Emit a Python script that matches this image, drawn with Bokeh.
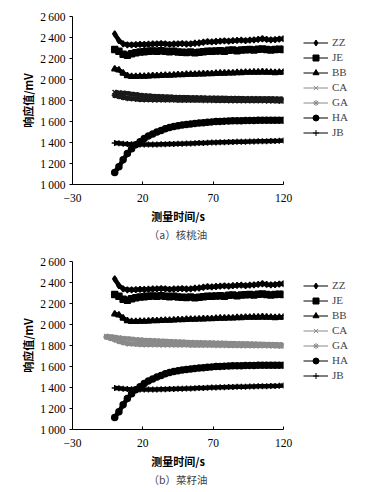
from bokeh.plotting import figure
from bokeh.models import Legend, LegendItem, FixedTicker, Title, Range1d
from bokeh.layouts import column, row
from bokeh.embed import file_html
from bokeh.resources import INLINE

# ---------------- data ----------------
T = list(range(0, 121, 3))            # measurement time, s
T_B2 = list(range(-6, 121, 3))        # time for CA/GA in panel (b)

X_TICKS = [-30, 20, 70, 120]
X_TICK_LABELS = ["\u221230", "20", "70", "120"]
Y_TICKS = [1000, 1200, 1400, 1600, 1800, 2000, 2200, 2400, 2600]
Y_TICK_LABELS = ["1\u2009000", "1\u2009200", "1\u2009400", "1\u2009600", "1\u2009800",
                 "2\u2009000", "2\u2009200", "2\u2009400", "2\u2009600"]

NAMES = ["ZZ", "JE", "BB", "CA", "GA", "HA", "JB"]

ZZ = [2435, 2370, 2340, 2330, 2330, 2332, 2335, 2333, 2336, 2338, 2340, 2342, 2340, 2335,
      2338, 2340, 2342, 2338, 2340, 2345, 2348, 2355, 2360, 2358, 2362, 2365, 2368, 2365,
      2370, 2372, 2375, 2370, 2375, 2378, 2382, 2388, 2382, 2378, 2380, 2385, 2388]
JE = [2285, 2270, 2240, 2232, 2245, 2255, 2262, 2265, 2270, 2272, 2268, 2275, 2270, 2265,
      2268, 2262, 2260, 2258, 2262, 2255, 2260, 2265, 2270, 2268, 2272, 2275, 2270, 2278,
      2280, 2275, 2280, 2283, 2285, 2282, 2288, 2290, 2285, 2282, 2285, 2288, 2285]
BB = [2100, 2090, 2060, 2035, 2028, 2028, 2030, 2030, 2032, 2035, 2035, 2038, 2040, 2040,
      2042, 2045, 2045, 2048, 2050, 2050, 2052, 2053, 2055, 2055, 2058, 2060, 2060, 2062,
      2062, 2065, 2065, 2068, 2068, 2070, 2070, 2072, 2070, 2068, 2065, 2068, 2070]
CA_A = [1880, 1875, 1872, 1868, 1862, 1858, 1852, 1848, 1845, 1842, 1840, 1838, 1836, 1835,
        1833, 1832, 1830, 1830, 1828, 1828, 1826, 1826, 1825, 1825, 1824, 1823, 1823, 1822,
        1822, 1822, 1821, 1820, 1820, 1820, 1819, 1818, 1818, 1818, 1817, 1816, 1815]
GA_A = [1850, 1840, 1830, 1822, 1818, 1815, 1812, 1810, 1810, 1808, 1808, 1808, 1806, 1806,
        1806, 1805, 1805, 1805, 1804, 1804, 1804, 1803, 1803, 1803, 1802, 1802, 1802, 1801,
        1801, 1801, 1800, 1800, 1800, 1800, 1799, 1799, 1798, 1798, 1797, 1796, 1795]
HA = [1115, 1170, 1235, 1295, 1340, 1378, 1408, 1437, 1461, 1481, 1500, 1515, 1530, 1542,
      1552, 1560, 1567, 1572, 1576, 1580, 1585, 1589, 1593, 1596, 1599, 1601, 1603, 1605,
      1606, 1607, 1608, 1609, 1610, 1610, 1611, 1611, 1611, 1611, 1612, 1612, 1612]
JB = [1395, 1392, 1388, 1385, 1383, 1382, 1380, 1380, 1380, 1381, 1382, 1383, 1384, 1385,
      1386, 1388, 1389, 1390, 1391, 1393, 1395, 1396, 1398, 1400, 1401, 1402, 1403, 1404,
      1405, 1406, 1407, 1408, 1409, 1410, 1411, 1412, 1413, 1414, 1415, 1417, 1420]
CA_B = [1890, 1885, 1880, 1875, 1870, 1866, 1862, 1858, 1855, 1852, 1850, 1848, 1846, 1844,
        1842, 1840, 1838, 1836, 1835, 1833, 1832, 1830, 1829, 1828, 1827, 1826, 1825, 1824,
        1823, 1822, 1821, 1820, 1819, 1818, 1817, 1816, 1815, 1814, 1813, 1812, 1811, 1810, 1808]
GA_B = [1880, 1868, 1855, 1840, 1828, 1820, 1816, 1814, 1812, 1810, 1810, 1809, 1809, 1808,
        1808, 1807, 1807, 1806, 1806, 1806, 1805, 1805, 1805, 1804, 1804, 1804, 1803, 1803,
        1803, 1802, 1802, 1802, 1801, 1801, 1800, 1800, 1800, 1799, 1799, 1798, 1797, 1796, 1795]

SERIF = "Liberation Serif"
CJK = "Noto Sans CJK SC"
MARKERS = ["diamond", "square", "triangle", "x", "asterisk", "circle", "cross"]
LEGEND_COLORS = ["black", "black", "black", "#8a8a8a", "#8a8a8a", "black", "black"]


def make_panel(series, caption, top_border, bottom_border, height, band_gray):
    p = figure(width=293, height=height, output_backend="svg", toolbar_location=None,
               x_range=Range1d(-30, 120), y_range=Range1d(1000, 2600),
               min_border_left=72, min_border_right=10,
               min_border_top=top_border, min_border_bottom=bottom_border)
    p.outline_line_color = None
    p.xgrid.visible = False
    p.ygrid.visible = False
    p.background_fill_color = "white"

    plot_colors = ["black", "black", "black", band_gray, band_gray, "black", "black"]
    for (tx, vals), m, c in zip(series, MARKERS, plot_colors):
        # dense measured series: thick band of overlapping markers
        p.line(tx, vals, line_color=c, line_width=4.5)
        p.scatter(tx, vals, marker=m, size=6, fill_color=c, line_color=c, line_width=1.5)

    xa = p.xaxis[0]
    xa.ticker = FixedTicker(ticks=X_TICKS)
    xa.major_label_overrides = dict(zip(X_TICKS, X_TICK_LABELS))
    xa.minor_tick_line_color = None
    xa.major_tick_in = 3
    xa.major_tick_out = 0
    xa.major_label_standoff = 9
    xa.major_label_text_font = SERIF
    xa.major_label_text_font_size = "11.5px"
    xa.axis_label = "测量时间/s"
    xa.axis_label_text_font = CJK
    xa.axis_label_text_font_style = "bold"
    xa.axis_label_text_font_size = "11px"
    xa.axis_label_standoff = 3

    ya = p.yaxis[0]
    ya.ticker = FixedTicker(ticks=Y_TICKS)
    ya.major_label_overrides = dict(zip(Y_TICKS, Y_TICK_LABELS))
    ya.minor_tick_line_color = None
    ya.major_tick_in = 0
    ya.major_tick_out = 3
    ya.major_label_standoff = 4
    ya.major_label_text_font = SERIF
    ya.major_label_text_font_size = "11.5px"
    ya.axis_label = "响应值/mV"
    ya.axis_label_text_font = CJK
    ya.axis_label_text_font_style = "bold"
    ya.axis_label_text_font_size = "11px"
    ya.axis_label_standoff = 1

    for ax in (xa, ya):
        ax.axis_line_color = "black"
        ax.major_tick_line_color = "black"
        ax.major_label_text_color = "black"
        ax.axis_label_text_color = "black"

    cap = Title(text=caption, align="center", vertical_align="top", standoff=0,
                text_font=CJK, text_font_size="10.5px", text_font_style="normal")
    p.add_layout(cap, "below")
    return p


def make_legend(series, height, bottom_offset):
    # a narrow companion figure that only holds the legend
    lf = figure(width=72, height=height, output_backend="svg", toolbar_location=None,
                x_range=Range1d(1000, 1001), y_range=Range1d(0, 1),
                x_axis_location=None, y_axis_location=None,
                min_border_left=0, min_border_right=0, min_border_top=0, min_border_bottom=0)
    lf.outline_line_color = None
    lf.xgrid.visible = False
    lf.ygrid.visible = False
    items = []
    for name, (tx, vals), m, c in zip(NAMES, series, MARKERS, LEGEND_COLORS):
        lr = lf.line(tx, vals, line_color=c, line_width=1)
        sr = lf.scatter(tx, vals, marker=m, size=6, fill_color=c, line_color=c, line_width=1)
        items.append(LegendItem(label=name, renderers=[lr, sr]))
    leg = Legend(items=items, location=(10, bottom_offset), glyph_width=25, glyph_height=15,
                 label_height=15, spacing=0, padding=0, margin=0, label_standoff=4,
                 label_text_font=SERIF, label_text_font_size="11px",
                 border_line_alpha=0, background_fill_alpha=0)
    lf.add_layout(leg, "center")
    return lf


series_a = [(T, ZZ), (T, JE), (T, BB), (T, CA_A), (T, GA_A), (T, HA), (T, JB)]
series_b = [(T, ZZ), (T, JE), (T, BB), (T_B2, CA_B), (T_B2, GA_B), (T, HA), (T, JB)]

pa = make_panel(series_a, "（a）核桃油", 16, 60, 244, "#1a1a1a")
pb = make_panel(series_b, "（b）菜籽油", 17, 61, 246, "#8a8a8a")
la = make_legend(series_a, 244, 44.5)
lb = make_legend(series_b, 246, 46.5)

layout = column(row(pa, la), row(pb, lb))
open("out.html", "w").write(file_html(layout, INLINE))
